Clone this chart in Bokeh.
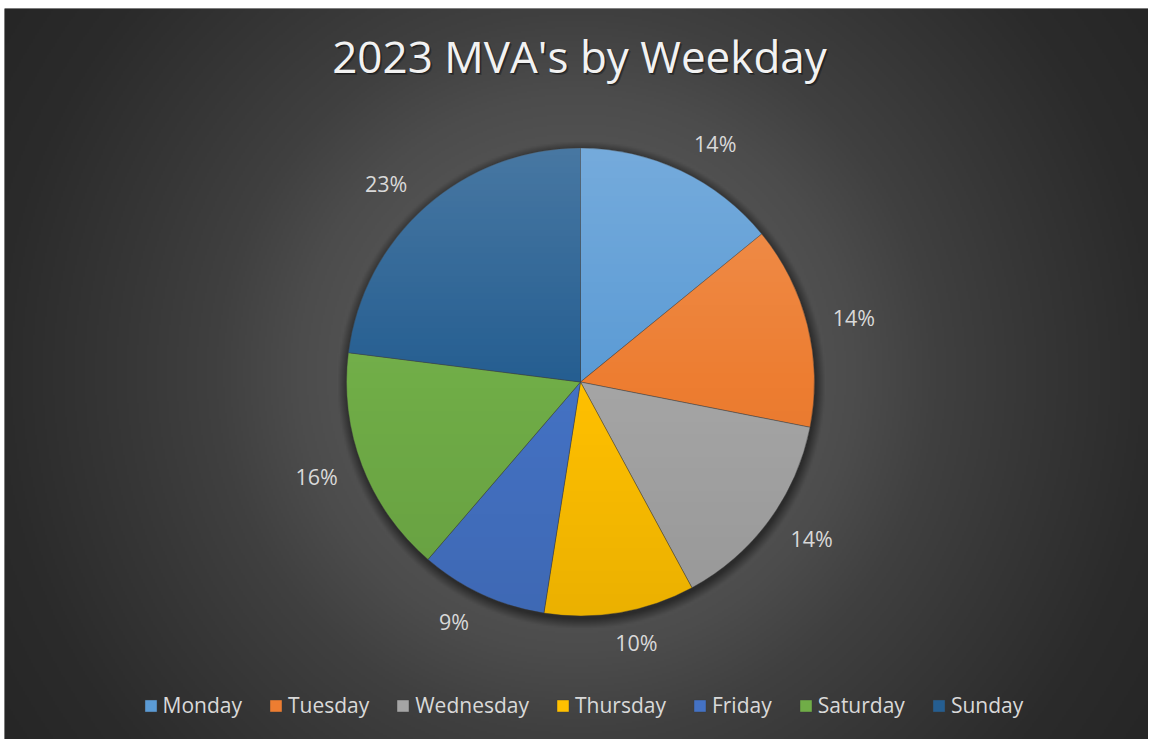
import numpy as np
from bokeh.plotting import figure
from bokeh.models import ColumnDataSource, Range1d, Legend, LegendItem
from bokeh.core.properties import value
from bokeh.embed import file_html
from bokeh.resources import INLINE

# ---------------- data ----------------
days = ["Monday", "Tuesday", "Wednesday", "Thursday", "Friday", "Saturday", "Sunday"]
shares = [14.1, 14.0, 14.0, 10.4, 8.8, 15.7, 23.0]
colors = ["#5b9bd5", "#ed7d31", "#a5a5a5", "#ffc000", "#4472c4", "#70ad47", "#255e91"]
chart_title = "2023 MVA's by Weekday"

# ---------------- layout (data units == page pixels) ----------------
PAGE_H = 741
FX0, FX1 = 4, 1148      # chart area, page x
FY0, FY1 = 8, 739       # chart area, page y


def py(y):
    # page pixel y -> data y (data y grows upward)
    return PAGE_H - y


CX, CY = 580.0, py(381.5)
R = 234
FONT = "Open Sans"

p = figure(width=FX1, height=FY1, x_range=Range1d(FX0, FX1), y_range=Range1d(py(FY1), py(FY0)),
           output_backend="svg", toolbar_location=None, x_axis_type=None, y_axis_type=None,
           min_border_left=FX0, min_border_top=FY0, min_border_right=0, min_border_bottom=0,
           outline_line_color=None,
           background_fill_color="#333333", border_fill_color="white")

# ---------------- background radial gradient + pie shadow ----------------
W, H = FX1 - FX0, FY1 - FY0
nw, nh = (W + 1) // 2, (H + 1) // 2
xs = FX0 + (np.arange(nw) + 0.5) * W / nw
ys = py(FY1) + (np.arange(nh) + 0.5) * H / nh
X, Y = np.meshgrid(xs, ys)
d = np.hypot(X - 576, Y - py(373))
v = np.interp(d, [0, 200, 280, 360, 450, 576, 700], [92, 84, 76, 64, 55, 43, 37])
sd = np.hypot(X - (CX + 1), Y - (CY - 3))
s = np.clip(1 - (sd - R) / 10.0, 0, 1)
v = v * (1 - 0.45 * s)
bg = np.empty((nh, nw, 4), dtype=np.uint8)
bg[..., 0] = v
bg[..., 1] = v
bg[..., 2] = v
bg[..., 3] = 255
p.image_rgba(image=[bg.view(np.uint32).reshape(nh, nw)], x=FX0, y=py(FY1), dw=W, dh=H)

# ---------------- pie ----------------
total = float(sum(shares))
cum = np.concatenate([[0.0], np.cumsum(shares)]) / total * 2 * np.pi
th0, th1 = cum[:-1], cum[1:]
src = ColumnDataSource(dict(
    day=days, share=shares, color=colors,
    start=list(np.pi / 2 - th1), end=list(np.pi / 2 - th0),
))
wr = p.wedge(x=CX, y=CY, radius=R, start_angle="start", end_angle="end",
             direction="anticlock", fill_color="color", line_color="#3c3c3c",
             line_width=0.6, line_alpha=0.7, source=src)

# subtle vertical gradient on the pie
n = 2 * R + 2
ox, oy = CX - R - 1, CY - R - 1
gx = ox + np.arange(n) + 0.5
gy = oy + np.arange(n) + 0.5
GX, GY = np.meshgrid(gx, gy)
dd = np.hypot(GX - CX, GY - CY)
cover = np.clip(R - dd + 0.5, 0, 1)
t = (GY - CY) / R
ov = np.zeros((n, n, 4), dtype=np.uint8)
top = t >= 0
ov[..., 0] = np.where(top, 255, 0)
ov[..., 1] = np.where(top, 255, 0)
ov[..., 2] = np.where(top, 255, 0)
alpha = np.where(top, np.clip(t, 0, 1) * 0.16, np.clip(-t, 0, 1) * 0.08) * cover
ov[..., 3] = np.round(alpha * 255)
p.image_rgba(image=[ov.view(np.uint32).reshape(n, n)], x=ox, y=oy, dw=n, dh=n)

# ---------------- data labels ----------------
mid = (th0 + th1) / 2
labels = [f"{round(sv / total * 100)}%" for sv in shares]
lx, ly = [], []
for m, lab in zip(mid, labels):
    w = 12 * len(lab) + 8
    sn, cs = np.sin(m), np.cos(m)
    ax = CX + (R + 22) * sn
    ay = CY + (R + 22) * cs
    lx.append(ax + np.sign(sn) * min(1.0, 3 * abs(sn)) * (w / 2 + 3))
    ly.append(ay + 8 * cs)
p.text(x=lx, y=ly, text=labels, text_align="center", text_baseline="middle",
       text_font=value(FONT), text_font_size="21.5px", text_color="#d9d9d9")

# ---------------- title ----------------
tx, ty = 579, py(55)
for dx, dy, a in [(2, -2.5, 0.25), (1, -1.5, 0.35)]:
    p.text(x=[tx + dx], y=[ty + dy], text=[chart_title], text_align="center",
           text_baseline="middle", text_font=value(FONT), text_font_size="44px",
           text_color="black", text_alpha=a)
p.text(x=[tx], y=[ty], text=[chart_title], text_align="center",
       text_baseline="middle", text_font=value(FONT), text_font_size="44px",
       text_color="#f2f2f2")

# ---------------- legend ----------------
items = [LegendItem(label=dname, renderers=[wr], index=i) for i, dname in enumerate(days)]
legend = Legend(items=items, orientation="horizontal", location=(144 - FX0 - 1.5, 20),
                margin=0, padding=0, spacing=26, label_standoff=5,
                glyph_width=15, glyph_height=15,
                label_text_font=FONT, label_text_font_size="21px",
                label_text_color="#d9d9d9",
                background_fill_alpha=0, border_line_alpha=0)
p.add_layout(legend)

open("out.html", "w").write(file_html(p, INLINE))
